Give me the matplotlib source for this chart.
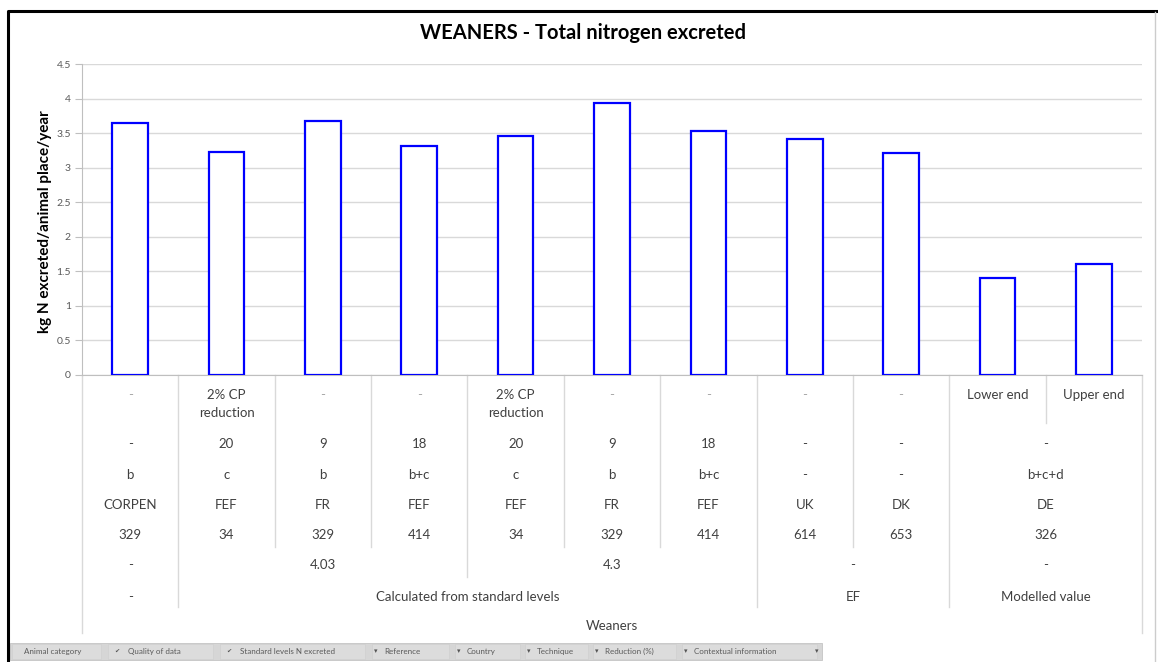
import matplotlib
matplotlib.use("Agg")
import matplotlib.pyplot as plt
from matplotlib.patches import Rectangle
from matplotlib.lines import Line2D
from matplotlib.ticker import FuncFormatter, MultipleLocator

# ---------------- data ----------------
values = [3.65, 3.23, 3.68, 3.31, 3.46, 3.94, 3.53, 3.42, 3.21, 1.40, 1.61]
contextual = ['-', '2% CP\nreduction', '-', '-', '2% CP\nreduction', '-', '-', '-', '-',
              'Lower end', 'Upper end']
reduction = [('-', 1), ('20', 1), ('9', 1), ('18', 1), ('20', 1), ('9', 1), ('18', 1),
             ('-', 1), ('-', 1), ('-', 2)]
technique = [('b', 1), ('c', 1), ('b', 1), ('b+c', 1), ('c', 1), ('b', 1), ('b+c', 1),
             ('-', 1), ('-', 1), ('b+c+d', 2)]
country = [('CORPEN', 1), ('FEF', 1), ('FR', 1), ('FEF', 1), ('FEF', 1), ('FR', 1),
           ('FEF', 1), ('UK', 1), ('DK', 1), ('DE', 2)]
reference = [('329', 1), ('34', 1), ('329', 1), ('414', 1), ('34', 1), ('329', 1),
             ('414', 1), ('614', 1), ('653', 1), ('326', 2)]
standard = [('-', 1), ('4.03', 3), ('4.3', 3), ('-', 2), ('-', 2)]
quality = [('-', 1), ('Calculated from standard levels', 6), ('EF', 2), ('Modelled value', 2)]
animal = [('Weaners', 11)]
title = 'WEANERS - Total nitrogen excreted'
ylabel = 'kg N excreted/animal place/year'
fields = ['Animal category', 'Quality of data', 'Standard levels N excreted', 'Reference',
          'Country', 'Technique', 'Reduction (%)', 'Contextual information']

# ---------------- figure ----------------
W, H = 1158, 662
fig = plt.figure(figsize=(W / 100, H / 100), dpi=100)
FONT = ['Lato', 'DejaVu Sans']
plt.rcParams['font.family'] = FONT

def fx(x):
    return x / W

def fy(y):
    return 1 - y / H

X0, X1, Y0, Y1 = 82, 1142, 375, 64
ax = fig.add_axes([fx(X0), fy(Y0), fx(X1) - fx(X0), fy(Y1) - fy(Y0)])
n = len(values)
xs = list(range(n))
ax.bar(xs, values, width=0.37, facecolor='white', edgecolor='#0000ff', linewidth=1.6, zorder=3)
ax.set_xlim(-0.5, n - 0.5)
ax.set_ylim(0, 4.5)
ax.yaxis.set_major_locator(MultipleLocator(0.5))
ax.yaxis.set_major_formatter(FuncFormatter(lambda v, p: '%g' % v))
ax.grid(axis='y', color='#d9d9d9', linewidth=1.0, zorder=0)
ax.set_axisbelow(True)
for s in ['top', 'right']:
    ax.spines[s].set_visible(False)
ax.spines['left'].set_color('#bfbfbf')
ax.spines['bottom'].set_color('#bfbfbf')
ax.set_xticks([])
ax.tick_params(axis='y', length=5, color='#bfbfbf', labelsize=7.5, labelcolor='#595959', pad=3)

# y label and title
fig.text(fx(45), fy(222), ylabel, rotation=90, ha='center', va='center',
         fontsize=11, fontweight='bold', color='#000000')
fig.text(fx(583), fy(33), title, ha='center', va='center', fontsize=14.5,
         fontweight='bold', color='#000000')

# ---------------- multi-level category table ----------------
tr = ax.get_xaxis_transform()

def ay(py):
    return (Y0 - py) / (Y0 - Y1)

TXT = '#404040'
FS = 9.5

# row 1 (innermost, contextual information)
for i, lab in enumerate(contextual):
    col = '#a6a6a6' if lab == '-' else TXT
    ax.text(i, ay(389), lab, transform=tr, ha='center', va='top', fontsize=FS,
            color=col, linespacing=1.6, clip_on=False)

levels = [reduction, technique, country, reference, standard, quality, animal]
row_y = [444, 475, 505, 535, 565, 597, 626]
row_bottom = [423, 455, 487, 517, 547, 577, 607, 633]

for lev, py in zip(levels, row_y):
    start = 0
    for lab, span in lev:
        cx = start + (span - 1) / 2
        ax.text(cx, ay(py), lab, transform=tr, ha='center', va='center', fontsize=FS,
                color=TXT, clip_on=False)
        start += span

# vertical separators: each boundary goes down through the outermost level where it splits groups
all_levels = [[(c, 1) for c in contextual]] + levels
for b in range(0, n + 1):
    depth = 0
    for li, lev in enumerate(all_levels):
        edges = [0]
        for _, span in lev:
            edges.append(edges[-1] + span)
        if b in edges:
            depth = li
    yb = row_bottom[depth]
    ax.add_line(Line2D([b - 0.5, b - 0.5], [0, ay(yb)], transform=tr, color='#d9d9d9',
                       linewidth=1.0, clip_on=False))

# ---------------- field button bar ----------------
bar_y0, bar_y1 = 643, 660
fig.patches.append(Rectangle((fx(10), fy(bar_y1)), fx(822) - fx(10), fy(bar_y0) - fy(bar_y1),
                             transform=fig.transFigure, facecolor='#d6d6d6',
                             edgecolor='#c4c4c4', linewidth=0.6))
btn_x = [12, 108, 220, 372, 455, 525, 593, 682]
btn_w = [92, 108, 148, 80, 68, 66, 86, 138]
for i, (name, bx, bw) in enumerate(zip(fields, btn_x, btn_w)):
    fig.patches.append(Rectangle((fx(bx), fy(bar_y1 - 1)), fx(bw - 3), fy(bar_y0 + 1) - fy(bar_y1 - 1),
                                 transform=fig.transFigure, facecolor='#dcdcdc',
                                 edgecolor='#cfcfcf', linewidth=0.5))
    tx = bx + 12
    if i in (1, 2):
        fig.text(fx(bx + 6), fy(651.5), '\u2714', fontsize=4.5, color='#555555',
                 ha='left', va='center', family=['DejaVu Sans'])
        tx = bx + 20
    elif i > 0:
        fig.text(fx(bx + 2), fy(651.5), '\u25be', fontsize=5, color='#555555',
                 ha='left', va='center', family=['DejaVu Sans'])
    fig.text(fx(tx), fy(651.5), name, fontsize=5.8, color='#5a5a5a', ha='left', va='center')
fig.text(fx(815), fy(651.5), '\u25be', fontsize=5, color='#555555', ha='left', va='center',
         family=['DejaVu Sans'])

# ---------------- outer frame ----------------
fig.add_artist(Line2D([fx(8), fx(8), fx(1157)], [fy(662), fy(11), fy(11)],
                      transform=fig.transFigure, color='black', linewidth=2.2))
fig.add_artist(Line2D([fx(1155), fx(1155)], [fy(12), fy(662)], transform=fig.transFigure,
                      color='#cccccc', linewidth=1.0))

fig.savefig('out.png', dpi=100)
